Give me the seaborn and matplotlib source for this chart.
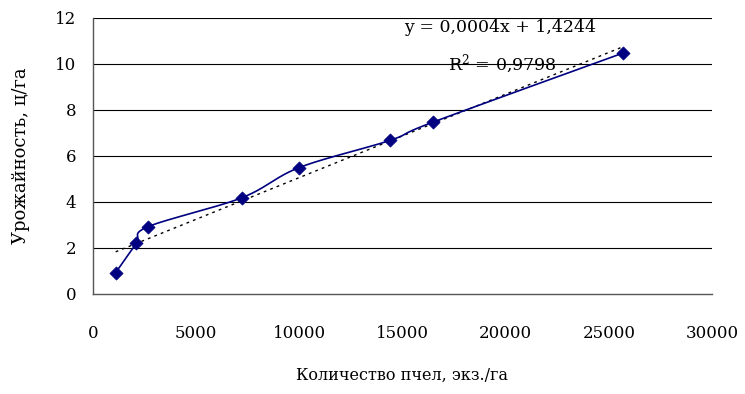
import numpy as np
import pandas as pd
import matplotlib
matplotlib.use("Agg")
import matplotlib.pyplot as plt
import seaborn as sns

# Data
bees = [1100, 2100, 2650, 7200, 10000, 14400, 16500, 25700]
yield_cq = [0.93, 2.2, 2.92, 4.18, 5.5, 6.68, 7.48, 10.48]
x_ticks = [0, 5000, 10000, 15000, 20000, 25000, 30000]
y_ticks = [0, 2, 4, 6, 8, 10, 12]
eq_text = "y = 0,0004x + 1,4244"
r2_text = "R$^2$ = 0,9798"
x_label = "Количество пчел, экз./га"
y_label = "Урожайность, ц/га"

sns.set_style("white")
plt.rcParams["font.family"] = ["DejaVu Serif"]
plt.rcParams["text.color"] = "black"
plt.rcParams["axes.labelcolor"] = "black"
plt.rcParams["xtick.color"] = "black"
plt.rcParams["ytick.color"] = "black"
plt.rcParams["mathtext.fontset"] = "dejavuserif"

fig = plt.figure(figsize=(7.45, 3.94), dpi=100)
ax = fig.add_axes([93 / 745, 1 - 294 / 394, (712 - 93) / 745, (294 - 18) / 394])

xmax, ymax = 30000, 12
ax.set_xlim(0, xmax)
ax.set_ylim(0, ymax)

# gridlines
for yv in y_ticks[1:]:
    ax.axhline(yv, color="black", lw=0.8, zorder=1)

# Smoothed line (Catmull-Rom / Excel-style bezier in screen-like coords)
W, H = 619.0, 276.0
px = np.array(bees) / xmax * W
py = np.array(yield_cq) / ymax * H
P = np.column_stack([px, py])
n = len(P)
curve = []
for i in range(n - 1):
    p0 = P[i - 1] if i > 0 else P[i]
    p1 = P[i]
    p2 = P[i + 1]
    p3 = P[i + 2] if i + 2 < n else P[i + 1]
    c1 = p1 + (p2 - p0) / 6.0
    c2 = p2 - (p3 - p1) / 6.0
    t = np.linspace(0, 1, 40)[:, None]
    seg = (1 - t) ** 3 * p1 + 3 * (1 - t) ** 2 * t * c1 + 3 * (1 - t) * t ** 2 * c2 + t ** 3 * p2
    curve.append(seg if i == 0 else seg[1:])
curve = np.vstack(curve)
ax.plot(curve[:, 0] / W * xmax, curve[:, 1] / H * ymax, color="#000080", lw=1.2, zorder=3)

# Linear trendline
slope, intercept = np.polyfit(bees, yield_cq, 1)
tx = np.array([bees[0], bees[-1]])
ax.plot(tx, slope * tx + intercept, color="black", lw=1.0, ls=(0, (2, 3)), zorder=2)

df = pd.DataFrame({"x": bees, "y": yield_cq})
sns.scatterplot(data=df, x="x", y="y", ax=ax, marker="D", s=45, color="#000080",
                edgecolor="#000080", linewidth=0.5, zorder=4)

ax.text(19725, 11.57, eq_text, ha="center", va="center", fontsize=12.5)
ax.text(19820, 10.0, r2_text, ha="center", va="center", fontsize=12.5)

ax.set_xticks(x_ticks)
ax.set_yticks(y_ticks)
ax.tick_params(axis="x", direction="in", length=6, width=0.8, pad=22, labelsize=12, color="#444444")
ax.tick_params(axis="y", direction="in", length=6, width=0.8, pad=12, labelsize=12, color="#444444")

ax.set_xlabel(x_label, fontsize=11.5, labelpad=18)
ax.set_ylabel(y_label, fontsize=13, labelpad=18)

for s in ["top", "right"]:
    ax.spines[s].set_visible(False)
for s in ["left", "bottom"]:
    ax.spines[s].set_color("#555555")
    ax.spines[s].set_linewidth(1.0)

fig.savefig("out.png", dpi=100)
